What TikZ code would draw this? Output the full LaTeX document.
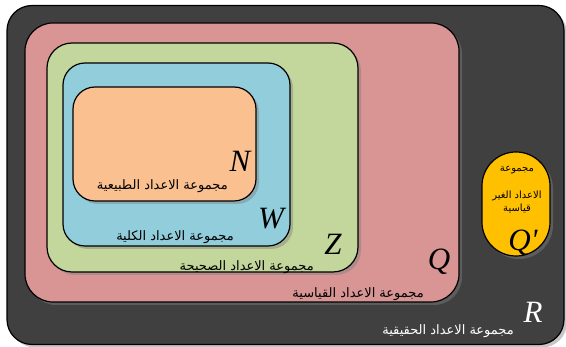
\documentclass[tikz,border=0pt]{standalone}
\usepackage{fontspec}
\TeXXeTstate=1
\newfontfamily\arabicfont[Script=Arabic]{DejaVu Sans}
\newfontfamily\latinserif{Liberation Serif}
\usetikzlibrary{shadows}
\definecolor{cR}{HTML}{404040}
\definecolor{cQ}{HTML}{D99594}
\definecolor{cZ}{HTML}{C3D69B}
\definecolor{cW}{HTML}{92CDDC}
\definecolor{cN}{HTML}{FAC090}
\definecolor{cQp}{HTML}{FFC000}
\begin{document}
\begin{tikzpicture}[x=1pt,y=-1pt,
  setbox/.style={draw=black, line width=1.2pt, inner sep=0pt,
    drop shadow={shadow xshift=3pt, shadow yshift=-3pt, opacity=0.45}},
  arlabel/.style={font=\arabicfont\fontsize{13}{14}\selectfont, inner sep=0pt},
  qplabel/.style={font=\arabicfont\fontsize{10}{11}\selectfont, inner sep=0pt},
  letter/.style={font=\latinserif\itshape\fontsize{31}{31}\selectfont, inner sep=0pt}]
\useasboundingbox (0,0) rectangle (566,347);
\node[setbox, fill=cR, rounded corners=25pt, minimum width=557pt, minimum height=339pt] (R) at (285.5,175) {};
\node[setbox, fill=cQ, rounded corners=28pt, minimum width=434pt, minimum height=279pt] (Q) at (242,162.5) {};
\node[setbox, fill=cZ, rounded corners=25pt, minimum width=311pt, minimum height=229pt] (Z) at (202.5,157.5) {};
\node[setbox, fill=cW, rounded corners=22pt, minimum width=227pt, minimum height=183pt] (W) at (176.5,154.5) {};
\node[setbox, fill=cN, rounded corners=22pt, minimum width=183pt, minimum height=114pt] (N) at (164.5,144) {};
\node[setbox, fill=cQp, rounded corners=34pt, minimum width=68pt, minimum height=104pt] (Qp) at (516,204) {};
% letters
\node[letter] (lN) at (240,161) {N};
\node[letter] (lW) at (271,219) {W};
\node[letter] (lZ) at (333,244) {Z};
\node[letter] (lQ) at (439,262) {Q};
\node[letter, text=white] (lR) at (533,312) {R};
\node[letter] (lQp) at (523,243) {Q'};
% arabic labels
\node[arlabel, anchor=east] (tN) at (228,186) {\beginR مجموعة الاعداد الطبيعية\endR};
\node[arlabel, anchor=east] (tW) at (234,237) {\beginR مجموعة الاعداد الكلية\endR};
\node[arlabel, anchor=east] (tZ) at (314,267) {\beginR مجموعة الاعداد الصحيحة\endR};
\node[arlabel, anchor=east] (tQ) at (424,294) {\beginR مجموعة الاعداد القياسية\endR};
\node[arlabel, anchor=east, text=white] (tR) at (514,331) {\beginR مجموعة الاعداد الحقيقية\endR};
\node[qplabel] (tQp1) at (517,170) {\beginR مجموعة\endR};
\node[qplabel] (tQp2) at (517,196) {\beginR الاعداد الغير\endR};
\node[qplabel] (tQp3) at (517,208) {\beginR قياسية\endR};
\end{tikzpicture}
\end{document}
